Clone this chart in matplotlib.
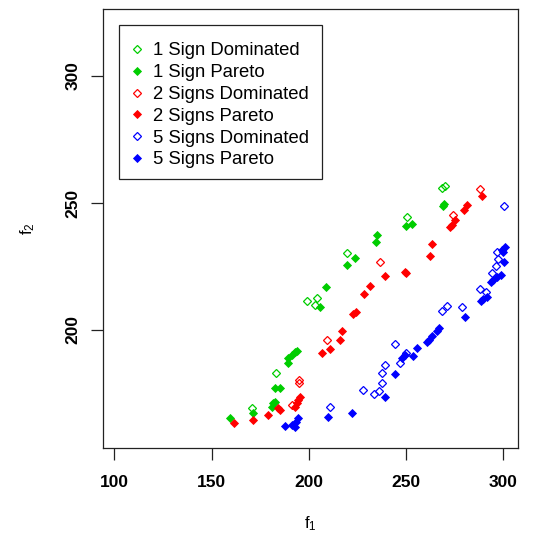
import matplotlib.pyplot as plt
from matplotlib.patches import Rectangle

plt.rcParams['font.family'] = ['Liberation Sans', 'DejaVu Sans']

# objective values (f1, f2) per signal count
g_dom_x = [170.6, 183.1, 198.9, 204.1, 203.2, 219.5, 250.6, 268.3, 270.0]
g_dom_y = [169.2, 183.0, 211.4, 212.5, 209.8, 230.2, 244.4, 255.8, 256.8]
g_par_x = [159.5, 171.2, 180.9, 181.7, 182.6, 182.6, 185.2, 189.5, 189.5, 191.2, 192.9,
           193.8, 205.8, 208.7, 219.5, 223.8, 234.4, 235.2, 250.0, 252.9, 269.5, 269.0]
g_par_y = [165.2, 167.4, 169.8, 171.1, 171.8, 177.0, 177.0, 186.9, 188.9, 190.2, 191.5,
           191.9, 209.2, 217.0, 225.6, 228.2, 234.8, 237.2, 241.1, 241.7, 249.6, 248.8]

r_dom_x = [191.2, 195.0, 195.0, 209.5, 236.6, 274.3, 288.0]
r_dom_y = [170.5, 180.3, 179.1, 196.1, 226.8, 245.4, 255.6]
r_par_x = [161.7, 171.5, 179.2, 184.3, 185.2, 192.9, 193.8, 194.6, 195.5, 206.6, 210.9,
           216.0, 216.9, 222.9, 224.3, 228.5, 231.5, 239.0, 250.0, 249.5, 262.3, 263.2,
           272.6, 275.2, 273.6, 279.8, 281.2, 288.9]
r_par_y = [163.3, 164.6, 166.5, 169.2, 168.3, 169.8, 171.1, 172.4, 173.7, 191.1, 192.4,
           195.9, 199.4, 206.3, 207.1, 214.2, 217.5, 221.4, 222.4, 223.0, 229.3, 233.9,
           240.4, 243.3, 241.3, 247.2, 249.2, 252.8]

b_dom_x = [210.9, 228.0, 233.5, 236.2, 237.5, 237.5, 239.2, 244.2, 246.9, 250.1, 268.3,
           271.2, 278.6, 288.0, 291.0, 294.4, 296.1, 297.4, 296.6, 300.5]
b_dom_y = [169.8, 176.4, 174.7, 176.1, 179.3, 183.2, 186.2, 194.4, 186.9, 191.1, 207.3,
           209.6, 209.2, 216.0, 215.1, 222.3, 225.2, 228.0, 230.8, 248.9]
b_par_x = [187.8, 191.2, 192.9, 193.3, 194.6, 209.6, 222.1, 239.2, 244.1, 247.8, 249.5,
           253.7, 255.8, 260.9, 262.0, 263.2, 265.8, 267.1, 280.3, 288.4, 289.7, 291.8,
           293.5, 294.9, 296.9, 298.7, 300.4, 300.0, 300.9, 299.2]
b_par_y = [162.3, 162.6, 161.7, 163.9, 165.2, 165.9, 167.4, 173.5, 182.7, 188.9, 190.2,
           189.8, 192.8, 195.4, 196.1, 197.6, 199.7, 200.7, 205.1, 211.5, 212.1, 213.1,
           219.0, 219.7, 221.0, 221.7, 226.9, 230.8, 232.8, 231.5]

green, red, blue = '#00CD00', '#FF0000', '#0000FF'

fig = plt.figure(figsize=(5.47, 5.36), dpi=100)
ax = fig.add_axes([0.1889, 0.1651, 0.7576, 0.8181])

series = [
    (g_dom_x, g_dom_y, green, False, '1 Sign Dominated'),
    (g_par_x, g_par_y, green, True, '1 Sign Pareto'),
    (r_dom_x, r_dom_y, red, False, '2 Signs Dominated'),
    (r_par_x, r_par_y, red, True, '2 Signs Pareto'),
    (b_dom_x, b_dom_y, blue, False, '5 Signs Dominated'),
    (b_par_x, b_par_y, blue, True, '5 Signs Pareto'),
]
for xs, ys, c, filled, lab in series:
    if filled:
        ax.plot(xs, ys, 'D', ms=3.9, mfc=c, mec=c, mew=0.6, ls='none', label=lab)
    else:
        ax.plot(xs, ys, 'D', ms=3.8, mfc='none', mec=c, mew=0.9, ls='none', label=lab)

ax.set_xlim(94.34, 307.4)
ax.set_ylim(153.7, 326.4)
ax.set_xticks([100, 150, 200, 250, 300])
ax.set_yticks([200, 250, 300])
for lbl in ax.get_yticklabels():
    lbl.set_rotation(90)
    lbl.set_va('center')
ax.tick_params(length=8.5, width=0.9, labelsize=12.5, color='#222222')
ax.tick_params(axis='x', pad=11)
ax.tick_params(axis='y', pad=8)
for lbl in ax.get_xticklabels() + ax.get_yticklabels():
    lbl.set_fontweight('bold')
for s in ax.spines.values():
    s.set_linewidth(0.9)
    s.set_color('#222222')

ax.set_xlabel(r'$\mathregular{f_1}$', fontsize=12)
ax.set_ylabel(r'$\mathregular{f_2}$', fontsize=12)
ax.xaxis.set_label_coords(0.5, -0.152)
ax.yaxis.set_label_coords(-0.161, 0.5)

# legend entries without frame, box drawn separately
leg = ax.legend(loc='upper left', bbox_to_anchor=(0.0635, 0.9238), fontsize=13.3,
                frameon=False, borderpad=0, labelspacing=0.26, handlelength=0.8,
                handletextpad=0.45, borderaxespad=0)
ax.add_patch(Rectangle((0.0386, 0.6116), 0.4884, 0.3519, transform=ax.transAxes,
                       fill=False, ec='#222222', lw=0.9, zorder=5))

fig.savefig('out.png', dpi=100)
